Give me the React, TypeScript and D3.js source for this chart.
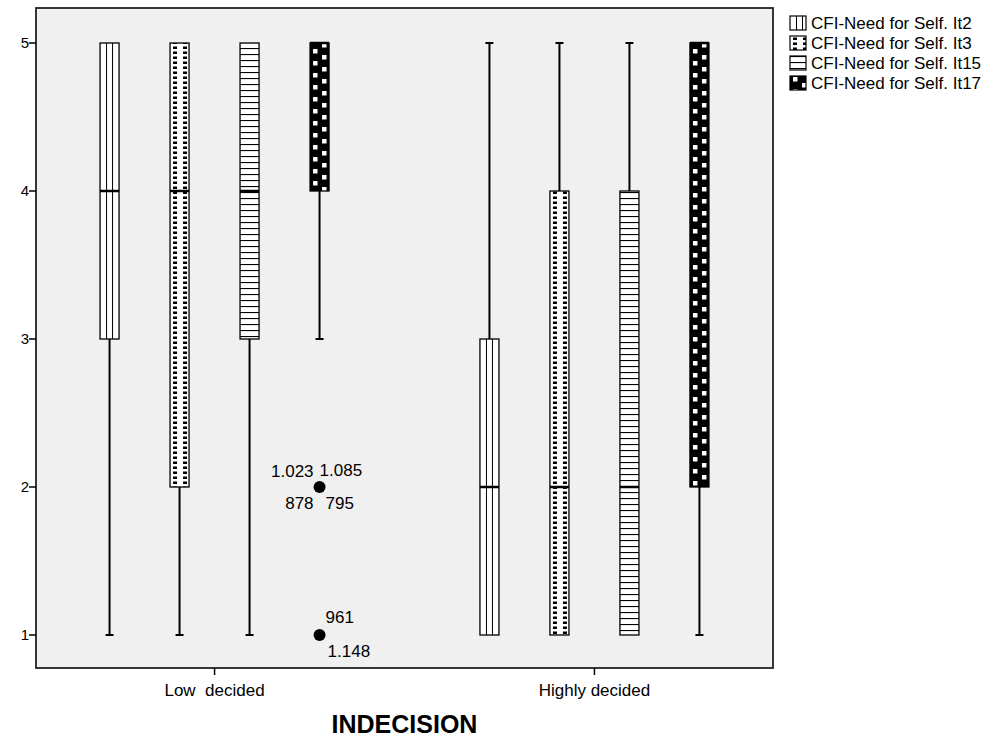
import * as d3 from "d3";

const categories = ["Low  decided", "Highly decided"];
const series = [
  "CFI-Need for Self. It2",
  "CFI-Need for Self. It3",
  "CFI-Need for Self. It15",
  "CFI-Need for Self. It17",
];
// [whisker low, q1, median, q3, whisker high] per series
const lowDecided = [
  [1, 3, 4, 5, 5],
  [1, 2, 4, 5, 5],
  [1, 3, 4, 5, 5],
  [3, 4, 5, 5, 5],
];
const highlyDecided = [
  [1, 1, 2, 3, 5],
  [1, 1, 2, 4, 5],
  [1, 1, 2, 4, 5],
  [1, 2, 5, 5, 5],
];
const outlierValues = [2, 1];
const outlierLabels = [
  ["1.023", "1.085", "878", "795"],
  ["961", "1.148"],
];
const yTicks = [1, 2, 3, 4, 5];

const width = 995;
const height = 740;
const plotLeft = 36;
const plotRight = 773;
const plotTop = 8;
const plotBottom = 668;
const font = "Arial, 'Liberation Sans', sans-serif";

const x0 = d3.scalePoint().domain(categories).range([plotLeft, plotRight]).padding(0.47);
const x1 = d3.scaleBand().domain(series).range([-140, 140]);
const y = d3.scaleLinear().domain([1, 5]).range([635, 43]);
const boxW = 19;

// fill pattern for each series, anchored at the box's left edge
const Pattern = ({ id, s, left }) => {
  if (s === 0) {
    return (
      <pattern id={id} patternUnits="userSpaceOnUse" x={left} y={0} width={boxW} height={10}>
        <rect width={boxW} height={10} fill="#fff" />
        <line x1={6.5} x2={6.5} y1={0} y2={10} stroke="#000" strokeWidth={1} />
        <line x1={12.5} x2={12.5} y1={0} y2={10} stroke="#000" strokeWidth={1} />
      </pattern>
    );
  }
  if (s === 1) {
    return (
      <pattern id={id} patternUnits="userSpaceOnUse" x={left} y={0} width={boxW} height={5}>
        <rect width={boxW} height={5} fill="#fff" />
        <rect x={3} y={1.5} width={4} height={2.5} fill="#000" />
        <rect x={13} y={1.5} width={4} height={2.5} fill="#000" />
      </pattern>
    );
  }
  if (s === 2) {
    return (
      <pattern id={id} patternUnits="userSpaceOnUse" x={left} y={0} width={boxW} height={6}>
        <rect width={boxW} height={6} fill="#fff" />
        <line x1={0} x2={boxW} y1={0.5} y2={0.5} stroke="#000" strokeWidth={1.2} />
      </pattern>
    );
  }
  return (
    <pattern id={id} patternUnits="userSpaceOnUse" x={left} y={0} width={boxW} height={12}>
      <rect width={boxW} height={12} fill="#000" />
      <rect x={3} y={1} width={4.5} height={4.5} fill="#fff" />
      <rect x={12} y={7} width={4.5} height={4.5} fill="#fff" />
    </pattern>
  );
};

const App = () => {
  const groups = [lowDecided, highlyDecided];

  const boxes = [];
  groups.forEach((g, gi) => {
    g.forEach((st, si) => {
      const cx = x0(categories[gi]) + x1(series[si]) + x1.bandwidth() / 2;
      boxes.push({ key: `b${gi}-${si}`, cx, st, si });
    });
  });

  const outX = x0(categories[0]) + x1(series[3]) + x1.bandwidth() / 2;

  return (
    <svg width={width} height={height} style={{ position: "absolute", left: 0, top: 0 }} fontFamily={font}>
      <defs>
        {boxes.map((b) => (
          <Pattern key={b.key} id={`p-${b.key}`} s={b.si} left={b.cx - boxW / 2} />
        ))}
        {series.map((s, i) => (
          <Pattern key={s} id={`leg-${i}`} s={i} left={790} />
        ))}
      </defs>
      <rect x={0} y={0} width={width} height={height} fill="#fff" />
      <rect
        x={plotLeft}
        y={plotTop}
        width={plotRight - plotLeft}
        height={plotBottom - plotTop}
        fill="#f0f0f0"
        stroke="#222"
        strokeWidth={1.8}
      />

      {/* y axis */}
      {yTicks.map((t) => (
        <g key={t}>
          <line x1={plotLeft - 7} x2={plotLeft} y1={y(t)} y2={y(t)} stroke="#000" strokeWidth={1.5} />
          <text x={plotLeft - 7} y={y(t)} dy="0.35em" textAnchor="end" fontSize={15}>
            {t}
          </text>
        </g>
      ))}

      {/* x axis */}
      {categories.map((c) => (
        <g key={c}>
          <line x1={x0(c)} x2={x0(c)} y1={plotBottom} y2={plotBottom + 7} stroke="#000" strokeWidth={1.5} />
          <text x={x0(c)} y={696} textAnchor="middle" fontSize={17} style={{ whiteSpace: "pre" }}>
            {c}
          </text>
        </g>
      ))}
      <text x={(plotLeft + plotRight) / 2} y={733} textAnchor="middle" fontSize={25} fontWeight="bold">
        INDECISION
      </text>

      {/* boxes */}
      {boxes.map((b) => {
        const [lo, q1, med, q3, hi] = b.st;
        const left = b.cx - boxW / 2;
        return (
          <g key={b.key}>
            {lo < q1 && (
              <>
                <line x1={b.cx} x2={b.cx} y1={y(lo)} y2={y(q1)} stroke="#000" strokeWidth={2} />
                <line x1={b.cx - 4} x2={b.cx + 4} y1={y(lo)} y2={y(lo)} stroke="#000" strokeWidth={2} />
              </>
            )}
            {hi > q3 && (
              <>
                <line x1={b.cx} x2={b.cx} y1={y(hi)} y2={y(q3)} stroke="#000" strokeWidth={2} />
                <line x1={b.cx - 4} x2={b.cx + 4} y1={y(hi)} y2={y(hi)} stroke="#000" strokeWidth={2} />
              </>
            )}
            <rect
              x={left}
              y={y(q3)}
              width={boxW}
              height={y(q1) - y(q3)}
              fill={`url(#p-${b.key})`}
              stroke="#000"
              strokeWidth={1.3}
            />
            <line x1={left} x2={left + boxW} y1={y(med)} y2={y(med)} stroke="#000" strokeWidth={2.5} />
          </g>
        );
      })}

      {/* outliers */}
      {outlierValues.map((v, i) => {
        const cy = y(v);
        const labs = outlierLabels[i];
        return (
          <g key={v} fontSize={17}>
            <circle cx={outX} cy={cy} r={6} fill="#000" />
            {i === 0 ? (
              <>
                <text x={outX - 6} y={cy - 10} textAnchor="end">{labs[0]}</text>
                <text x={outX} y={cy - 11}>{labs[1]}</text>
                <text x={outX - 6} y={cy + 22} textAnchor="end">{labs[2]}</text>
                <text x={outX + 6} y={cy + 22}>{labs[3]}</text>
              </>
            ) : (
              <>
                <text x={outX + 6} y={cy - 12}>{labs[0]}</text>
                <text x={outX + 8} y={cy + 22}>{labs[1]}</text>
              </>
            )}
          </g>
        );
      })}

      {/* legend */}
      {series.map((s, i) => (
        <g key={s} transform={`translate(0, ${16 + i * 20})`}>
          <rect x={790} y={0} width={16} height={14} fill={`url(#leg-${i})`} stroke="#000" strokeWidth={1.2} />
          <text x={811} y={7} dy="0.35em" fontSize={17}>
            {s}
          </text>
        </g>
      ))}
    </svg>
  );
};

export default App;
